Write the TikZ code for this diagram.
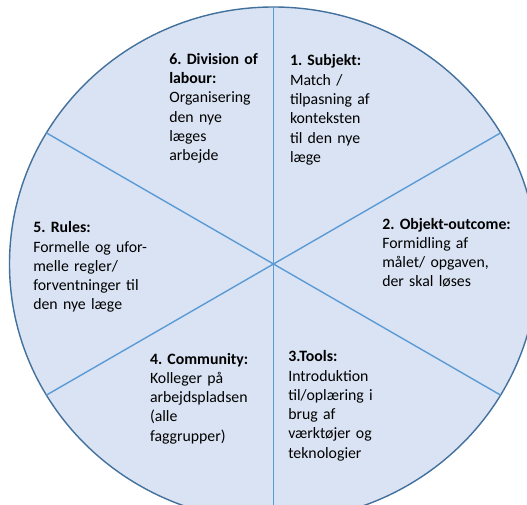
\documentclass[tikz,border=0pt]{standalone}
\usepackage{fontspec}
\setmainfont{Carlito}
\usetikzlibrary{shapes.geometric}
\definecolor{fillblue}{HTML}{DAE3F3}
\definecolor{rimblue}{HTML}{41719C}
\definecolor{spokeblue}{HTML}{5B9BD5}
\frenchspacing
\begin{document}
\begin{tikzpicture}[x=1pt,y=-1pt,
  label/.style={anchor=base west, inner sep=0pt, outer sep=0pt, text width=160pt, align=left,
    font=\fontsize{15.8}{19.3}\selectfont\frenchspacing},
  spoke/.style={draw=spokeblue, line width=1.4pt},
  wheelstyle/.style={ellipse, draw=rimblue, fill=fillblue, line width=1.4pt, inner sep=0pt, outer sep=0pt,
    minimum width=528pt, minimum height=514pt}]
\useasboundingbox (0,0) rectangle (527,505);
\fill[white] (0,0) rectangle (527,505);
\clip (0,0) rectangle (527,505);
\node[wheelstyle] (wheel) at (273.5,264) {};
\foreach \a in {90,30,-30,-90,150,210} {
  \draw[spoke] (wheel.center) -- (wheel.\a);
}
\node[label] (div) at (169.3,64.3) {\textbf{6. Division of}\\\textbf{labour:}\\Organisering\\den nye\\læges\\arbejde};
\node[label] (subj) at (290,66) {\textbf{1. Subjekt:}\\Match /\\tilpasning af\\konteksten\\til den nye\\læge};
\node[label] (obj) at (382.3,229) {\textbf{2. Objekt-outcome:}\\Formidling af\\målet/ opgaven,\\der skal løses};
\node[label] (rules) at (33.3,232.7) {\textbf{5. Rules:}\\Formelle og ufor-\\melle regler/\\forventninger til\\den nye læge};
\node[label] (comm) at (150,364) {\textbf{4. Community:}\\Kolleger på\\arbejdspladsen\\(alle\\faggrupper)};
\node[label] (tools) at (288.3,361.7) {\textbf{3.Tools:}\\Introduktion\\til/oplæring i\\brug af\\værktøjer og\\teknologier};
\end{tikzpicture}
\end{document}
